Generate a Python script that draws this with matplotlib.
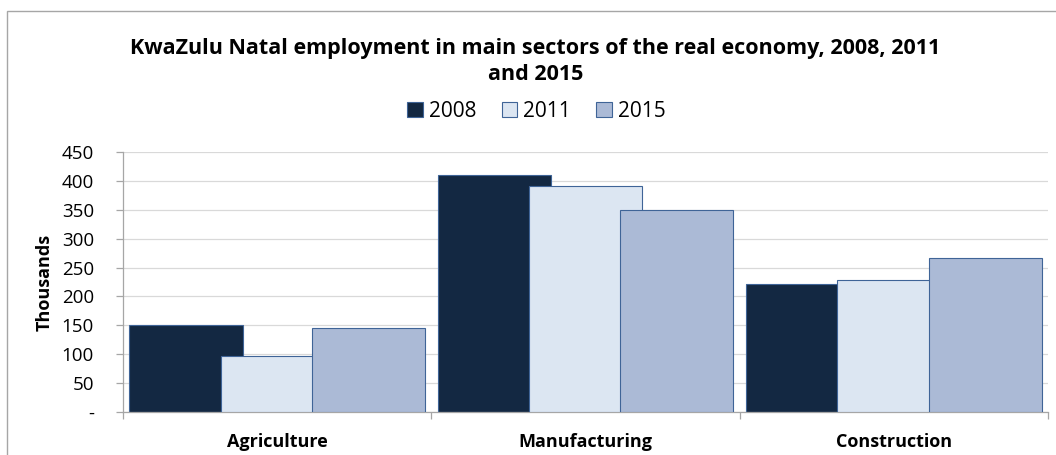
import matplotlib
matplotlib.use("Agg")
import matplotlib.pyplot as plt
from matplotlib.patches import Rectangle
from matplotlib.ticker import FixedLocator, FuncFormatter
import numpy as np

plt.rcParams['font.family'] = ['Open Sans', 'DejaVu Sans']

categories = ["Agriculture", "Manufacturing", "Construction"]
years = ["2008", "2011", "2015"]
values_2008 = [150, 410, 221]
values_2011 = [97, 391, 229]
values_2015 = [145, 349, 267]
yticks = [0, 50, 100, 150, 200, 250, 300, 350, 400, 450]

series = [values_2008, values_2011, values_2015]
colors = ["#132842", "#DCE6F2", "#ABBAD6"]
edge = "#3F6497"

fig = plt.figure(figsize=(10.56, 4.55), dpi=100)
# chart frame, running off the right and bottom edges
fig.patches.append(Rectangle((7 / 1056, -0.05), 1.1, 1 - 11 / 455 + 0.05,
                             transform=fig.transFigure, fill=False,
                             edgecolor="#A6A6A6", linewidth=1.0))
ax = fig.add_axes([0.1165, 0.0945, 0.876, 0.5715])

x = np.arange(len(categories))
width = 0.367
step = 0.296
for k, (vals, col, yr) in enumerate(zip(series, colors, years)):
    ax.bar(x + (k - 1) * step, vals, width=width, color=col, edgecolor=edge,
           linewidth=0.8, label=yr, zorder=2 + k)

ax.set_xlim(-0.5, len(categories) - 0.5)
ax.set_ylim(0, 450)
ax.yaxis.set_major_locator(FixedLocator(yticks))
ax.yaxis.set_major_formatter(FuncFormatter(lambda v, p: "-" if v == 0 else f"{int(v)}"))
ax.grid(axis="y", color="#D9D9D9", linewidth=0.9, zorder=0)
ax.set_axisbelow(True)

ax.set_xticks(x)
ax.set_xticklabels(categories, fontweight="bold", fontsize=13)
ax.xaxis.set_minor_locator(FixedLocator(np.arange(-0.5, len(categories), 1.0)))
ax.tick_params(axis="x", which="major", length=0, pad=15)
ax.tick_params(axis="x", which="minor", length=5, color="#A6A6A6", width=0.9)
ax.tick_params(axis="y", length=5, color="#A6A6A6", width=0.9, labelsize=13.5, pad=16)

for s in ["top", "right"]:
    ax.spines[s].set_visible(False)
for s in ["left", "bottom"]:
    ax.spines[s].set_color("#A6A6A6")
    ax.spines[s].set_linewidth(0.9)

ax.set_ylabel("Thousands", fontweight="bold", fontsize=13, labelpad=6)

fig.text(0.507, 0.865, "KwaZulu Natal employment in main sectors of the real economy, 2008, 2011\nand 2015",
         ha="center", va="center", fontsize=15.5, fontweight="bold", linespacing=1.3)

fig.legend(loc="center", bbox_to_anchor=(0.508, 0.755), ncol=3, frameon=False,
           fontsize=15, handlelength=0.75, handleheight=0.75, handletextpad=0.3,
           columnspacing=1.2)

fig.savefig("out.png", dpi=100)
